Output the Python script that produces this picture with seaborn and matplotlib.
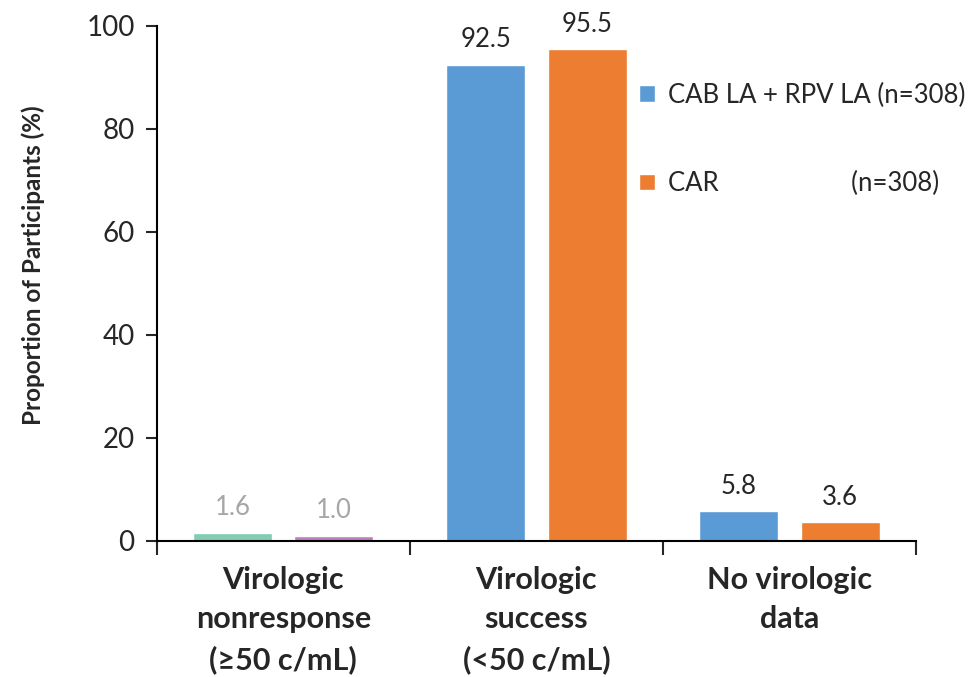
import matplotlib
matplotlib.use("Agg")
import matplotlib.pyplot as plt
import seaborn as sns
import pandas as pd
import numpy as np
from matplotlib.ticker import FixedLocator

categories = ["Virologic\nnonresponse\n(≥50 c/mL)", "Virologic\nsuccess\n(<50 c/mL)", "No virologic\ndata"]
arms = ["CAB LA + RPV LA (n=308)", "CAR                    (n=308)"]
cab_values = [1.6, 92.5, 5.8]
car_values = [1.0, 95.5, 3.6]
label_texts_cab = ["1.6", "92.5", "5.8"]
label_texts_car = ["1.0", "95.5", "3.6"]

sns.set_theme(style="white")
plt.rcParams['font.family'] = ['Lato', 'DejaVu Sans']

df = pd.DataFrame({
    "Category": categories * 2,
    "Arm": [arms[0]] * 3 + [arms[1]] * 3,
    "Value": cab_values + car_values,
})

fig = plt.figure(figsize=(9.74, 6.77), dpi=100)
ax = fig.add_axes([0.161, 0.2009, 0.7795, 0.7607])

palette = {arms[0]: "#5B9BD5", arms[1]: "#ED7D31"}
sns.barplot(data=df, x="Category", y="Value", hue="Arm", order=categories,
            hue_order=arms, palette=palette, width=0.8, gap=0.22,
            saturation=1, ax=ax, errorbar=None)

# recolor first group
first_colors = ["#82CBB4", "#BE7EBF"]
for i, cont in enumerate(ax.containers):
    cont.patches[0].set_facecolor(first_colors[i])
    labels = label_texts_cab if i == 0 else label_texts_car
    texts = ax.bar_label(cont, labels=labels, padding=9, fontsize=18.5)
    texts[0].set_color("#A6A6A6")

ax.set_ylim(0, 100)
ax.set_xlim(-0.5, 2.5)
ax.set_yticks([0, 20, 40, 60, 80, 100])
ax.tick_params(axis="y", labelsize=20, length=8, width=1.5, left=True, pad=8, direction="out")
ax.set_xticks(range(3))
ax.set_xticklabels(categories, fontsize=22, fontweight="bold", linespacing=1.5)
ax.xaxis.set_minor_locator(FixedLocator([-0.5, 0.5, 1.5, 2.5]))
ax.tick_params(axis="x", which="major", length=0, pad=18)
ax.tick_params(axis="x", which="minor", length=10, width=1.5, bottom=True, direction="out")
ax.set_xlabel("")
ax.set_ylabel("Proportion of Participants (%)", fontsize=17.5, fontweight="bold")
ax.yaxis.set_label_coords(-0.147, 0.536)

for s in ["top", "right"]:
    ax.spines[s].set_visible(False)
for s in ["left", "bottom"]:
    ax.spines[s].set_color("black")
    ax.spines[s].set_linewidth(1.5)

leg = ax.legend(loc="upper left", bbox_to_anchor=(0.605, 0.935), frameon=False,
                fontsize=18.5, handlelength=0.6, handleheight=0.6, handletextpad=0.5,
                labelspacing=2.45)

fig.savefig("out.png", dpi=100)
